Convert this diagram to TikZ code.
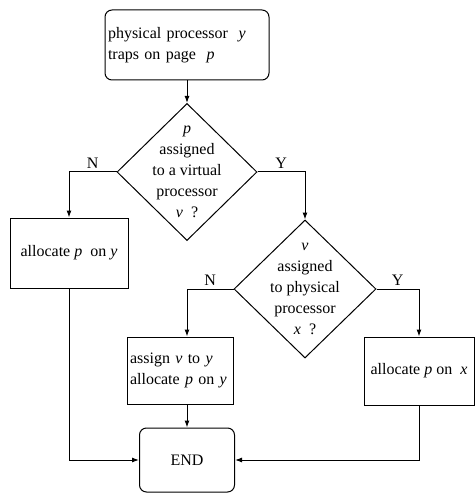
\documentclass[tikz,border=0pt]{standalone}
\usepackage{fontspec}
\setmainfont{Liberation Serif}
\usetikzlibrary{shapes.geometric,arrows.meta}
\newcommand{\vr}[1]{\textit{#1}}

\tikzset{
  every node/.style={font=\fontsize{16}{21}\selectfont},
  terminal/.style={draw, line width=1pt, rounded corners=7pt, inner sep=3pt},
  procbox/.style={draw, line width=1pt, inner sep=3pt},
  decision/.style={draw, diamond, line width=1pt, inner sep=-6pt, align=center},
  flow/.style={draw, line width=1pt, -{Latex[length=7pt,width=5pt]}}
}

\begin{document}
\begin{tikzpicture}[x=1pt, y=-1pt]
  \useasboundingbox (0,0) rectangle (475,494);

  \node[terminal, minimum width=164pt, minimum height=70pt, text width=158pt, align=left] (start) at (187,45)
    {physical processor \ \vr{y}\\traps on page \ \vr{p}};
  \node[decision, minimum width=140pt, minimum height=135pt] (ask1) at (187,172)
    {\vr{p}\\assigned\\to a virtual\\processor\\\vr{v} \ ?};
  \node[procbox, minimum width=118pt, minimum height=70pt] (allocy) at (69,253)
    {allocate \vr{p} \ on \vr{y}};
  \node[decision, minimum width=142pt, minimum height=138pt] (ask2) at (305,289)
    {\vr{v}\\assigned\\to physical\\processor\\\vr{x} \ ?};
  \node[procbox, minimum width=106pt, minimum height=67pt, text width=100pt, align=left] (assign) at (180,370.5)
    {assign \vr{v} to \vr{y}\\allocate \vr{p} on \vr{y}};
  \node[procbox, minimum width=110pt, minimum height=68pt] (allocx) at (419,371)
    {allocate \vr{p} on \ \vr{x}};
  \node[terminal, minimum width=95pt, minimum height=64pt] (end) at (187,460) {END};

  % connectors
  \draw[flow] (start) -- (ask1);
  \draw[flow] (ask1.west) -| node[above, pos=0.25] {N} (allocy.north);
  \draw[flow] (ask1.east) -| node[above, pos=0.25] {Y} (ask2.north);
  \draw[flow] (ask2.west) -| node[above, pos=0.25] {N} (end.north |- assign.north);
  \draw[flow] (ask2.east) -| node[above, pos=0.25] {Y} (allocx.north);
  \draw[flow] (end.north |- assign.south) -- (end.north);
  \draw[flow] (allocy.south) |- (end.west);
  \draw[flow] (allocx.south) |- (end.east);
\end{tikzpicture}
\end{document}
